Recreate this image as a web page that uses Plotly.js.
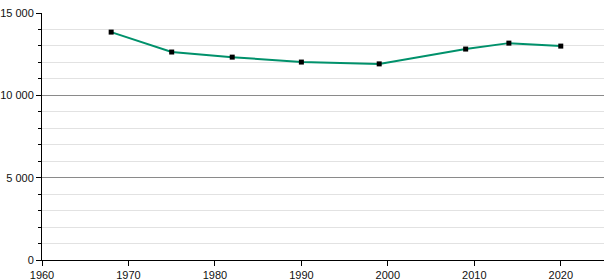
<!DOCTYPE html>
<html><head><meta charset="utf-8">
<script src="https://cdn.plot.ly/plotly-3.0.1.min.js"></script>
<style>html,body{margin:0;padding:0;background:#fff}#chart{width:615px;height:280px}</style>
</head><body><div id="chart"></div>
<script>
const years = [1968, 1975, 1982, 1990, 1999, 2009, 2014, 2020];
const population = [13840, 12630, 12320, 12020, 11910, 12810, 13170, 12990];
const xTicks = [1960, 1970, 1980, 1990, 2000, 2010, 2020];
const yTicks = [0, 5000, 10000, 15000];

Plotly.newPlot('chart', [{
  x: years, y: population, type: 'scatter', mode: 'lines+markers',
  line: {color: '#00916b', width: 2},
  marker: {symbol: 'square', size: 5, color: '#000'},
  hoverinfo: 'none'
}], {
  width: 615, height: 280,
  margin: {l: 42, r: 11, t: 13, b: 20, pad: 0},
  paper_bgcolor: '#fff', plot_bgcolor: '#fff',
  separators: '. ',
  showlegend: false,
  font: {family: 'Liberation Sans, Arial, sans-serif', size: 11, color: '#111'},
  xaxis: {
    range: [1960, 2025], tickvals: xTicks, ticktext: xTicks.map(String),
    showgrid: false, zeroline: false, showline: true, linecolor: '#000', linewidth: 1,
    ticks: 'outside', ticklen: 5, tickcolor: '#000'
  },
  yaxis: {
    range: [0, 15000], tickvals: yTicks, tickformat: ',d',
    showgrid: true, gridcolor: '#8a8a8a', gridwidth: 1,
    zeroline: false, showline: true, linecolor: '#000', linewidth: 1,
    ticks: 'outside', ticklen: 5, tickcolor: '#000',
    minor: {dtick: 1000, showgrid: true, gridcolor: '#e2e2e2', ticks: 'outside', ticklen: 3, tickcolor: '#000'}
  }
}, {staticPlot: true});
</script></body></html>
